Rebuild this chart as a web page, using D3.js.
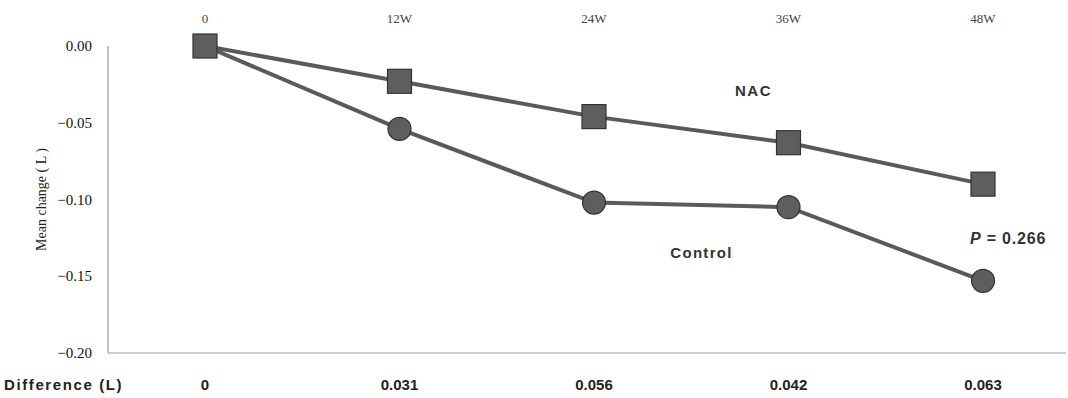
<!DOCTYPE html>
<html>
<head>
<meta charset="utf-8">
<script src="https://cdn.jsdelivr.net/npm/d3@7"></script>
<style>
  body { margin: 0; background: #fff; }
  svg { display: block; }
</style>
</head>
<body>
<div id="chart"></div>
<script>
const width = 1068, height = 398;
const left_margin = 108;

const weeks = ["0", "12W", "24W", "36W", "48W"];
const nac = [0, -0.023, -0.046, -0.063, -0.090];
const control = [0, -0.054, -0.102, -0.105, -0.153];
const diffs = ["0", "0.031", "0.056", "0.042", "0.063"];
const yTicks = [0, -0.05, -0.10, -0.15, -0.20];

const svg = d3.select("#chart").append("svg")
    .attr("width", width)
    .attr("height", height);

const serif = "'Liberation Serif', 'Times New Roman', serif";
const sans = "'Liberation Sans', Arial, sans-serif";

//scales
const x = d3.scalePoint()
    .domain(weeks)
    .range([205, 983]);
const y = d3.scaleLinear()
    .domain([-0.20, 0])
    .range([353, 46]);

//axis lines
svg.append("line")
    .attr("x1", left_margin).attr("x2", left_margin)
    .attr("y1", y(0)).attr("y2", y(-0.20))
    .attr("stroke", "#999").attr("stroke-width", 1.2);
svg.append("line")
    .attr("x1", left_margin).attr("x2", 1066)
    .attr("y1", y(-0.20)).attr("y2", y(-0.20))
    .attr("stroke", "#999").attr("stroke-width", 1.2);

//y tick labels
svg.selectAll(".ytick")
    .data(yTicks)
    .enter()
    .append("text")
    .attr("class", "ytick")
    .attr("text-anchor", "end")
    .attr("x", 92)
    .attr("y", d => y(d) + 5)
    .attr("font-family", serif)
    .attr("font-size", 15)
    .attr("fill", "#111")
    .text(d => d === 0 ? "0.00" : "\u2212" + Math.abs(d).toFixed(2));

svg.append("text")
    .attr("transform", "translate(46," + ((y(0) + y(-0.2)) / 2) + ") rotate(-90)")
    .attr("text-anchor", "middle")
    .attr("font-family", serif)
    .attr("font-size", 14)
    .attr("fill", "#222")
    .text("Mean change ( L )");

//week labels at top
svg.selectAll(".week")
    .data(weeks)
    .enter()
    .append("text")
    .attr("class", "week")
    .attr("text-anchor", "middle")
    .attr("x", d => x(d))
    .attr("y", 23)
    .attr("font-family", serif)
    .attr("font-size", 13)
    .attr("fill", "#444")
    .text(d => d);

//lines
const line = d3.line()
    .x((d, i) => x(weeks[i]))
    .y(d => y(d));

[control, nac].forEach(s => {
    svg.append("path")
        .datum(s)
        .attr("d", line)
        .attr("fill", "none")
        .attr("stroke", "#5a5a5a")
        .attr("stroke-width", 4);
});

//markers
svg.selectAll(".ctl")
    .data(control.slice(1))
    .enter()
    .append("circle")
    .attr("class", "ctl")
    .attr("cx", (d, i) => x(weeks[i + 1]))
    .attr("cy", d => y(d))
    .attr("r", 11.5)
    .attr("fill", "#5e5e5e")
    .attr("stroke", "#333")
    .attr("stroke-width", 1.2);

svg.selectAll(".nac")
    .data(nac)
    .enter()
    .append("rect")
    .attr("class", "nac")
    .attr("x", (d, i) => x(weeks[i]) - 12)
    .attr("y", d => y(d) - 12)
    .attr("width", 24)
    .attr("height", 24)
    .attr("fill", "#5e5e5e")
    .attr("stroke", "#333")
    .attr("stroke-width", 1.2);

//annotations
svg.append("text")
    .attr("x", x("36W") - 35).attr("y", 96)
    .attr("text-anchor", "middle")
    .attr("font-family", sans).attr("font-weight", "bold")
    .attr("font-size", 15).attr("letter-spacing", 1.5).attr("fill", "#333")
    .text("NAC");
svg.append("text")
    .attr("x", x("36W") - 87).attr("y", 258)
    .attr("text-anchor", "middle")
    .attr("font-family", sans).attr("font-weight", "bold")
    .attr("font-size", 15).attr("letter-spacing", 1.3).attr("fill", "#333")
    .text("Control");
const pt = svg.append("text")
    .attr("x", 970).attr("y", 244)
    .attr("font-family", sans).attr("font-weight", "bold")
    .attr("font-size", 16).attr("letter-spacing", 0.8).attr("fill", "#333");
pt.append("tspan").attr("font-style", "italic").text("P");
pt.append("tspan").text(" = 0.266");

//difference row
svg.append("text")
    .attr("x", 4).attr("y", 390)
    .attr("font-family", sans).attr("font-weight", "bold")
    .attr("font-size", 15)
    .attr("fill", "#222")
    .attr("letter-spacing", 1.6)
    .text("Difference (L)");
svg.selectAll(".diff")
    .data(diffs)
    .enter()
    .append("text")
    .attr("class", "diff")
    .attr("text-anchor", "middle")
    .attr("x", (d, i) => x(weeks[i]))
    .attr("y", 390)
    .attr("font-family", sans).attr("font-weight", "bold")
    .attr("font-size", 15).attr("fill", "#222")
    .text(d => d);
</script>
</body>
</html>
